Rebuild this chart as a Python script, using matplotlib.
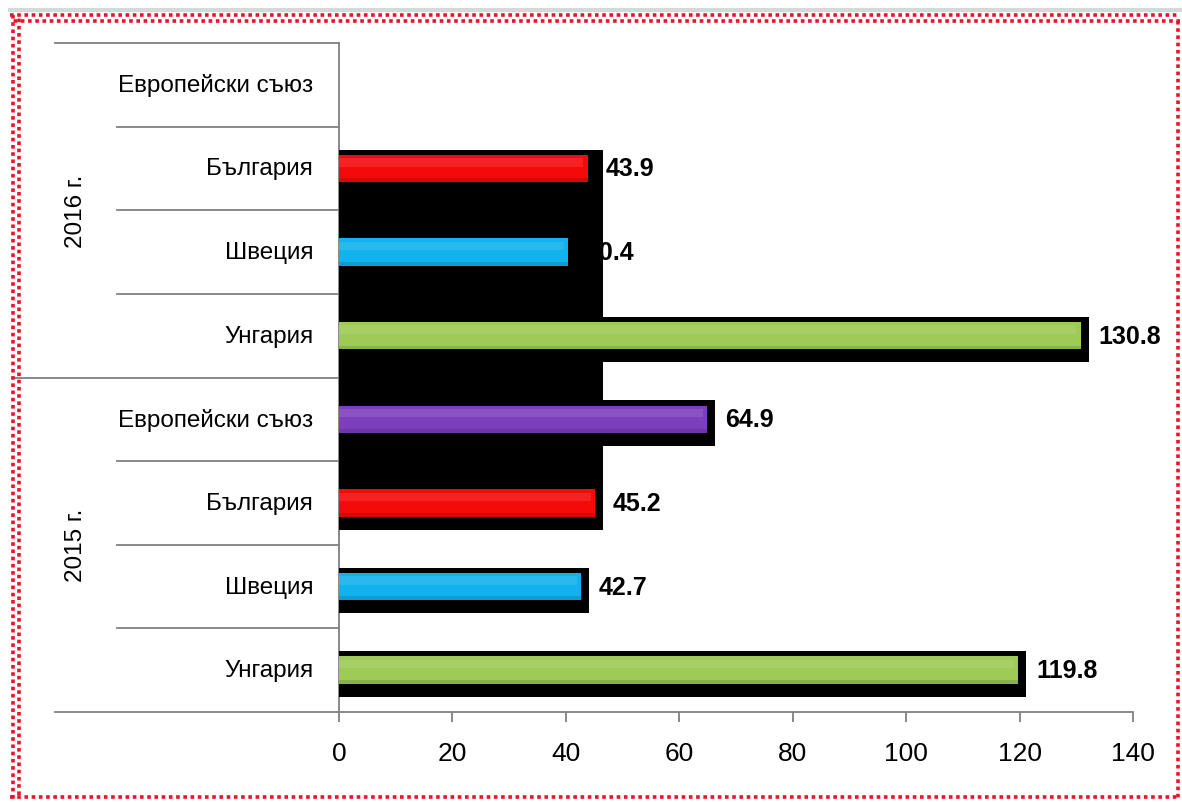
import numpy as np
import matplotlib
matplotlib.use("Agg")
import matplotlib.pyplot as plt
from matplotlib.patches import Rectangle
from matplotlib.lines import Line2D
import matplotlib.transforms as mtransforms

plt.rcParams['font.family'] = ['Liberation Sans Narrow', 'Liberation Sans', 'DejaVu Sans']

# ---- data ----
categories = ['Унгария', 'Швеция', 'България', 'Европейски съюз',
              'Унгария', 'Швеция', 'България', 'Европейски съюз']
values = [119.8, 42.7, 45.2, 64.9, 130.8, 40.4, 43.9, np.nan]
value_labels = ['119.8', '42.7', '45.2', '64.9', '130.8', '40.4', '43.9', '']
groups = ['2015 г.', '2016 г.']
country_colors = {'Унгария': '#9dcb55', 'Швеция': '#12b2ee',
                  'България': '#f50a0a', 'Европейски съюз': '#7d3fbd'}
x_ticks = [0, 20, 40, 60, 80, 100, 120, 140]

W, H = 1182, 803
fig = plt.figure(figsize=(W / 100, H / 100), dpi=100)
fig.patch.set_facecolor('white')

ax_l, ax_r, ax_t, ax_b = 339, 1133, 44, 713
ax = fig.add_axes([ax_l / W, 1 - ax_b / H, (ax_r - ax_l) / W, (ax_b - ax_t) / H])
ax.set_xlim(0, 140)
ax.set_ylim(-0.5, len(categories) - 0.5)

pos = np.arange(len(categories))
sh_off = 1.4
sh_top, sh_bot = 0.225, 0.32
bar_h = 0.33

# shadows
for y, v in zip(pos, values):
    if np.isnan(v):
        continue
    ax.barh(y - (sh_bot - sh_top) / 2, v + sh_off, height=sh_top + sh_bot,
            color='black', zorder=4)

# odd black block (spanning Bulgarian bars)
bg_idx = [i for i, c in enumerate(categories) if c == 'България']
bg_vals = [values[i] for i in bg_idx]
y_lo = min(bg_idx) - sh_bot
y_hi = max(bg_idx) + sh_top
ax.add_patch(Rectangle((0, y_lo), max(bg_vals) + sh_off, y_hi - y_lo,
                       facecolor='black', edgecolor='none', zorder=3))

# bars
for y, v, c in zip(pos, values, categories):
    if np.isnan(v):
        continue
    col = country_colors[c]
    ax.barh(y, v, height=bar_h, color=col, zorder=5)
    ax.barh(y + bar_h * 0.22, v - 0.8, height=bar_h * 0.3, color='white',
            alpha=0.10, zorder=6, linewidth=0)
    ax.barh(y - bar_h * 0.43, v, height=bar_h * 0.14, color='black',
            alpha=0.12, zorder=6, linewidth=0)

# value labels (under the black block)
for y, v, t in zip(pos, values, value_labels):
    if np.isnan(v):
        continue
    ax.text(v + sh_off + 1.7, y, t, ha='left', va='center', fontsize=18,
            fontweight='bold', color='black', zorder=2)

# axes styling
for s in ['top', 'right']:
    ax.spines[s].set_visible(False)
for s in ['left', 'bottom']:
    ax.spines[s].set_color('#808080')
    ax.spines[s].set_linewidth(1.3)
ax.set_xticks(x_ticks)
ax.set_xticklabels([str(t) for t in x_ticks], fontsize=19)
ax.tick_params(axis='x', direction='out', length=7, width=1.3, color='#808080',
               pad=14)
ax.set_yticks([])

# category labels
trans = mtransforms.blended_transform_factory(ax.transAxes, ax.transData)
lab_x = (313 - ax_l) / (ax_r - ax_l)
for y, c in zip(pos, categories):
    ax.text(lab_x, y, c, ha='right', va='center', fontsize=17.5,
            transform=trans, clip_on=False)

# separator lines
n = len(categories)
for k in range(n + 1):
    yv = k - 0.5
    if k == 0 or k == n:
        x0 = 55
    elif k == n // 2:
        x0 = 12
    else:
        x0 = 117
    ax.add_line(Line2D([(x0 - ax_l) / (ax_r - ax_l), 0], [yv, yv],
                       transform=trans, color='#808080', lw=1.3, clip_on=False))

# group labels
gx = (76 - ax_l) / (ax_r - ax_l)
per = n // len(groups)
for gi, g in enumerate(groups):
    yc = gi * per + (per - 1) / 2
    ax.text(gx, yc, g, rotation=90, ha='center', va='center', fontsize=17.5,
            transform=trans, clip_on=False)

# red checkered dotted border
def fline(xs, ys, off, lw=2.6, color='#e8142a'):
    fig.add_artist(Line2D([x / W for x in xs], [1 - y / H for y in ys],
                          transform=fig.transFigure, color=color, lw=lw,
                          linestyle=(off, (1, 1)), solid_capstyle='butt',
                          dash_capstyle='butt'))

fig.add_artist(Line2D([10 / W, 1182 / W], [1 - 11 / H] * 2, transform=fig.transFigure,
                      color='#d8d8d8', lw=3))
fline([10, 1180], [16, 16], 0)
fline([10, 1180], [22, 22], 1)
fline([13, 13], [16, 800], 0)
fline([19, 19], [16, 800], 1)
fline([1178, 1178], [22, 800], 0)
fline([10, 1180], [798, 798], 0)

fig.savefig('out.png', dpi=100, facecolor='white')
